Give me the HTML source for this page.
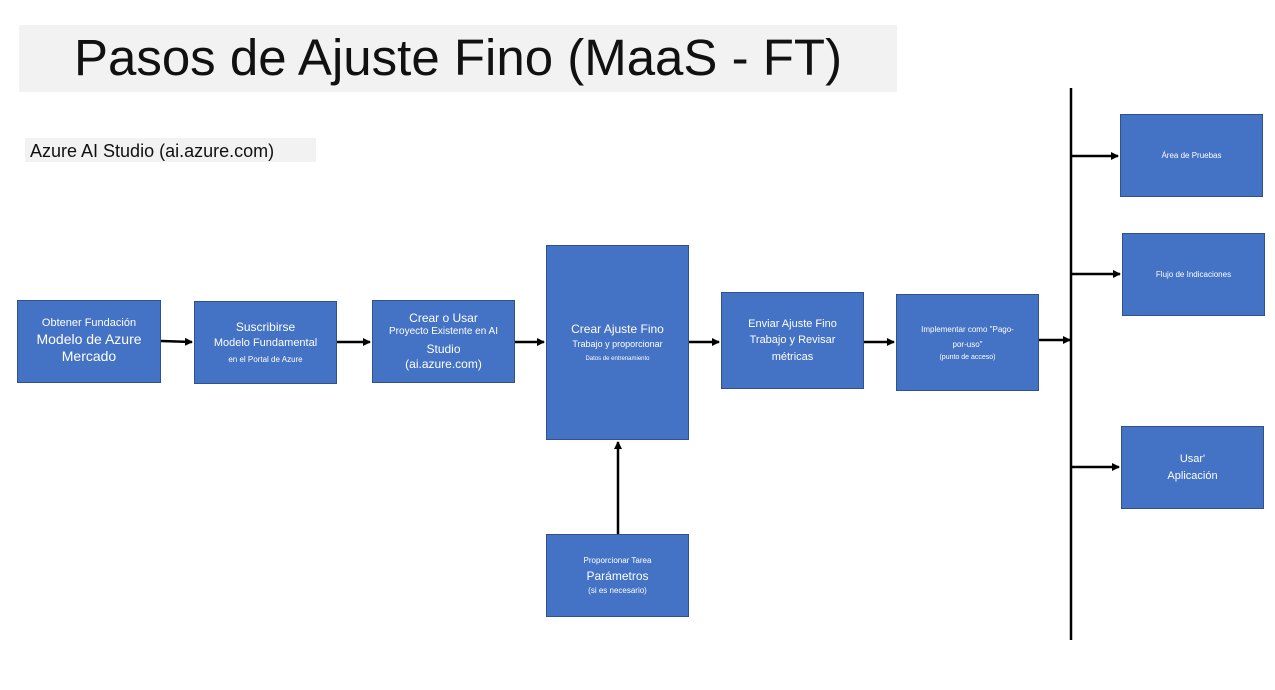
<!DOCTYPE html>
<html><head><meta charset="utf-8"><style>
body{margin:0;width:1275px;height:690px;background:#fff;position:relative;font-family:"Liberation Sans","DejaVu Sans",sans-serif;overflow:hidden}
.b{position:absolute;background:#4472c4;border:1.5px solid #2f528f;box-sizing:border-box;color:#fff;display:flex;flex-direction:column;justify-content:center;align-items:center;text-align:center;line-height:1.25}
.t{position:absolute}
</style></head><body>
<div class="t" style="left:19px;top:25px;width:878px;height:67px;background:#f2f2f2"></div>
<div class="t" style="left:19px;top:28px;width:878px;text-align:center;font-size:51px;color:#111">Pasos de Ajuste Fino (MaaS - FT)</div>
<div class="t" style="left:25px;top:138px;width:291px;height:24px;background:#f2f2f2;font-size:18px;line-height:26px;color:#111">&nbsp;Azure AI Studio (ai.azure.com)</div>

<div class="b" style="left:17px;top:300px;width:144px;height:83px"><div style="font-size:11px">Obtener Fundación</div><div style="font-size:14px">Modelo de Azure<br>Mercado</div></div>
<div class="b" style="left:194px;top:301px;width:143px;height:83px"><div style="font-size:12px">Suscribirse</div><div style="font-size:11px;margin-top:2px">Modelo Fundamental</div><div style="font-size:8px;margin-top:4px">en el Portal de Azure</div></div>
<div class="b" style="left:372px;top:300px;width:143px;height:83px"><div style="font-size:12px">Crear o Usar</div><div style="font-size:10px">Proyecto Existente en AI</div><div style="font-size:12px;margin-top:3px">Studio<br>(ai.azure.com)</div></div>
<div class="b" style="left:546px;top:245px;width:143px;height:195px"><div style="font-size:12px">Crear Ajuste Fino</div><div style="font-size:9px;margin-top:2px">Trabajo y proporcionar</div><div style="font-size:6px;margin-top:6px">Datos de entrenamiento</div></div>
<div class="b" style="left:721px;top:292px;width:143px;height:97px"><div style="font-size:11px;line-height:1.5">Enviar Ajuste Fino<br>Trabajo y Revisar<br>métricas</div></div>
<div class="b" style="left:896px;top:294px;width:143px;height:97px"><div style="font-size:8px;line-height:1.9">Implementar como "Pago-<br>por-uso"</div><div style="font-size:7px;margin-top:2px">(punto de acceso)</div></div>
<div class="b" style="left:546px;top:534px;width:143px;height:83px"><div style="font-size:8px">Proporcionar Tarea</div><div style="font-size:12px;margin-top:3px">Parámetros</div><div style="font-size:8px;margin-top:2px">(si es necesario)</div></div>
<div class="b" style="left:1120px;top:114px;width:143px;height:83px;font-size:8px">Área de Pruebas</div>
<div class="b" style="left:1122px;top:233px;width:143px;height:83px;font-size:8px">Flujo de Indicaciones</div>
<div class="b" style="left:1121px;top:426px;width:143px;height:83px;font-size:11px;line-height:1.5">Usar'<br>Aplicación</div>

<svg width="1275" height="690" style="position:absolute;left:0;top:0" >
<defs><marker id="a" markerWidth="8" markerHeight="8" refX="7" refY="4" orient="auto" markerUnits="userSpaceOnUse"><path d="M0,0L8,4L0,8z" fill="#000"/></marker></defs>
<g stroke="#000" stroke-width="2.5" fill="none">
<line x1="161" y1="341" x2="192" y2="342" marker-end="url(#a)"/>
<line x1="337" y1="342" x2="370" y2="342" marker-end="url(#a)"/>
<line x1="515" y1="342" x2="544" y2="342" marker-end="url(#a)"/>
<line x1="689" y1="342" x2="719" y2="342" marker-end="url(#a)"/>
<line x1="864" y1="342" x2="894" y2="342" marker-end="url(#a)"/>
<line x1="1039" y1="340" x2="1070" y2="340" marker-end="url(#a)"/>
<line x1="618" y1="534" x2="618" y2="442" marker-end="url(#a)"/>
<line x1="1071" y1="88" x2="1071" y2="640"/>
<line x1="1071" y1="156" x2="1118" y2="156" marker-end="url(#a)"/>
<line x1="1071" y1="274" x2="1120" y2="274" marker-end="url(#a)"/>
<line x1="1071" y1="467" x2="1119" y2="467" marker-end="url(#a)"/>
</g></svg>
</body></html>
